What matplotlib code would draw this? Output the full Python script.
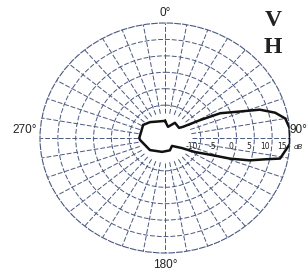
import numpy as np
import matplotlib
matplotlib.use("Agg")
import matplotlib.pyplot as plt

# antenna pattern (deg clockwise from top, dB)
theta_deg = [0, 14, 31, 52, 56, 61, 64, 69, 72, 76, 80, 85, 90, 93, 101, 103, 106, 109, 112, 117, 123,
             141, 160, 191, 229, 265, 270, 303, 319, 360]
gain_db = [-14.8, -16.5, -14.6, -15.0, -13.9, -8.8, -2.8, 2.5, 7.9, 11.8, 14.2, 15.0, 15.0, 15.0, 12.8,
           8.8, 4.7, -0.7, -6.4, -10.6, -14.4, -16.9, -16.0, -15.7, -14.4, -13.0, -12.8, -12.7, -13.6, -14.8]
ring_db = [-10, -5, 0, 5, 10]
spoke_deg = list(range(0, 360, 10))
ring_labels = ["-10", "-5", "0", "5", "10", "15"]
ring_label_pos = [-10, -5, 0, 5, 10, 15]
R_MIN, R_MAX = -20, 15
SPOKE_START = -12.5

W, H = 308, 273
fig = plt.figure(figsize=(W / 100, H / 100), dpi=100)
ax = fig.add_axes([40 / W, 1 - 253 / H, 250 / W, 230 / H], projection="polar")
ax.set_aspect("auto")
ax.set_theta_zero_location("N"); ax.set_theta_direction(-1)
ax.set_rlim(R_MIN, R_MAX)

gc = "#4a5880"
dash = (0, (5, 2))
ax.set_thetagrids(spoke_deg, labels=[])
ax.set_rgrids(ring_db, labels=[])
ax.xaxis.grid(False)
ax.yaxis.grid(True, color=gc, ls=dash, lw=0.7)
for t in spoke_deg:
    ax.plot([np.radians(t)] * 2, [SPOKE_START, R_MAX], color=gc, ls=dash, lw=0.7, zorder=1)
ax.spines["polar"].set_color(gc); ax.spines["polar"].set_linestyle(dash); ax.spines["polar"].set_linewidth(0.8)
ax.tick_params(length=0)

ax.plot(np.radians(theta_deg), gain_db, color="#111111", lw=1.8, solid_joinstyle="round", zorder=3)

for r, lab in zip(ring_label_pos, ring_labels):
    ax.annotate(lab, xy=(np.pi / 2, r), xytext=(-2, -3), textcoords="offset points",
                ha="right", va="top", fontsize=5.5, color="#222", zorder=4)
ax.annotate("dB", xy=(np.pi / 2, R_MAX), xytext=(3, -4), textcoords="offset points",
            ha="left", va="top", fontsize=5, style="italic", color="#222")

lab_kw = dict(fontsize=8.5, color="#222", family="Liberation Sans")
fig.text(165 / W, 1 - 13 / H, "0°", ha="center", va="center", **lab_kw)
fig.text(165 / W, 1 - 265 / H, "180°", ha="center", va="center", **lab_kw)
fig.text(37 / W, 1 - 130 / H, "270°", ha="right", va="center", **lab_kw)
fig.text(290 / W, 1 - 130 / H, "90°", ha="left", va="center", **lab_kw)

fig.text(273 / W, 1 - 21 / H, "V", ha="center", va="center", fontsize=17, fontweight="bold", family="Liberation Serif", color="#222")
fig.text(273 / W, 1 - 47 / H, "H", ha="center", va="center", fontsize=17, fontweight="bold", family="Liberation Serif", color="#222")

fig.savefig("out.png", dpi=100)
